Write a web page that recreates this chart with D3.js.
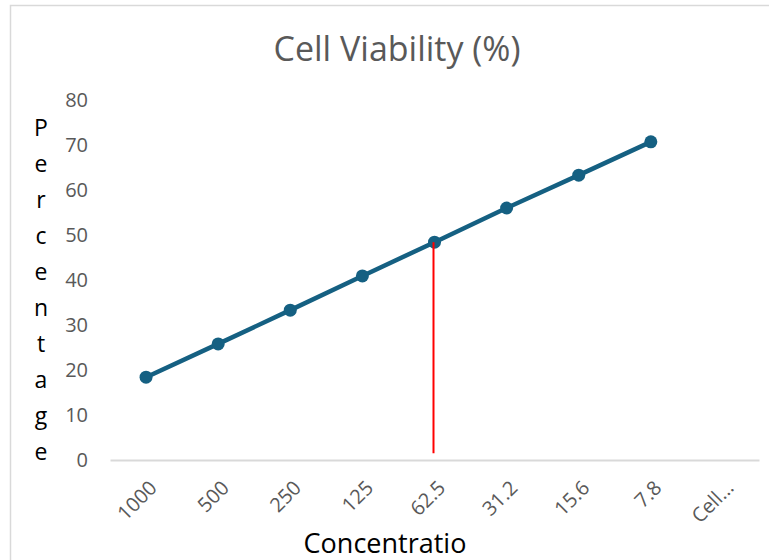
<!DOCTYPE html>
<html>
<head>
<meta charset="utf-8">
<script src="https://cdn.jsdelivr.net/npm/d3@7"></script>
<style>
  body { margin: 0; background: #fff; }
  text { font-family: "Open Sans", "Noto Sans", sans-serif; }
</style>
</head>
<body>
<div id="wrapper"></div>
<script>
const categories = ["1000", "500", "250", "125", "62.5", "31.2", "15.6", "7.8", "Cell..."]
const viability = [18.4, 25.8, 33.3, 40.9, 48.4, 56.0, 63.3, 70.7, null]
const yTicks = [0, 10, 20, 30, 40, 50, 60, 70, 80]
const markerCategory = "62.5"
const markerRange = [1.5, 48.4]
const yLabel = "Percentage"

function drawChart() {
    // 1. dimensions
    let dimensions = {
        width: 769,
        height: 560,
        margin: { top: 100, right: 10, bottom: 100, left: 110 },
    }
    dimensions.boundedWidth = 759 - dimensions.margin.left
    dimensions.boundedHeight = 460 - dimensions.margin.top

    // 2. canvas
    const wrapper = d3.select("#wrapper")
        .append("svg")
        .attr("width", dimensions.width)
        .attr("height", dimensions.height)

    wrapper.append("rect")
        .attr("x", 10.5)
        .attr("y", 5.5)
        .attr("width", 800)
        .attr("height", 600)
        .attr("fill", "none")
        .attr("stroke", "#d9d9d9")
        .attr("stroke-width", 1.5)

    const bounds = wrapper.append("g")
        .attr("transform", `translate(${dimensions.margin.left}, ${dimensions.margin.top})`)

    // 3. scales
    const xScale = d3.scaleBand()
        .domain(categories)
        .range([0, dimensions.boundedWidth])

    const yScale = d3.scaleLinear()
        .domain([0, 80])
        .range([dimensions.boundedHeight, 0])

    const xCenter = d => xScale(d) + xScale.bandwidth() / 2

    // 4. axes
    const yAxis = bounds.append("g")
        .call(d3.axisLeft(yScale).tickValues(yTicks).tickSize(0).tickPadding(22))
    yAxis.select(".domain").remove()
    yAxis.selectAll("text")
        .attr("fill", "#595959")
        .style("font-size", "20px")

    const xAxis = bounds.append("g")
        .attr("transform", `translate(0, ${dimensions.boundedHeight})`)
        .call(d3.axisBottom(xScale).tickSize(0))
    xAxis.select(".domain")
        .attr("stroke", "#d9d9d9")
        .attr("stroke-width", 2)
    xAxis.selectAll("text")
        .attr("fill", "#595959")
        .style("font-size", "20px")
        .attr("text-anchor", "end")
        .attr("dy", 0)
        .attr("transform", "translate(10, 27) rotate(-45)")

    // 5. data
    const data = categories.map((c, i) => ({ c: c, v: viability[i] }))
        .filter(d => d.v !== null)

    const lineGenerator = d3.line()
        .x(d => xCenter(d.c))
        .y(d => yScale(d.v))

    bounds.append("path")
        .attr("d", lineGenerator(data))
        .attr("fill", "none")
        .attr("stroke", "#156082")
        .attr("stroke-width", 4.5)

    bounds.selectAll("circle")
        .data(data)
        .join("circle")
        .attr("cx", d => xCenter(d.c))
        .attr("cy", d => yScale(d.v))
        .attr("r", 6.5)
        .attr("fill", "#156082")

    bounds.append("line")
        .attr("x1", xCenter(markerCategory) - 1)
        .attr("x2", xCenter(markerCategory) - 1)
        .attr("y1", yScale(markerRange[0]))
        .attr("y2", yScale(markerRange[1]))
        .attr("stroke", "#ff0000")
        .attr("stroke-width", 2)

    // 6. labels
    wrapper.append("text")
        .attr("x", 397)
        .attr("y", 61)
        .attr("text-anchor", "middle")
        .attr("fill", "#595959")
        .style("font-size", "34px")
        .text("Cell Viability (%)")

    wrapper.append("g")
        .selectAll("text")
        .data(yLabel.split(""))
        .join("text")
        .attr("x", 41)
        .attr("y", (d, i) => 136 + i * 36)
        .attr("text-anchor", "middle")
        .attr("fill", "#000")
        .style("font-size", "23px")
        .text(d => d)

    wrapper.append("text")
        .attr("x", 385)
        .attr("y", 553)
        .attr("text-anchor", "middle")
        .attr("fill", "#000")
        .style("font-size", "27px")
        .text("Concentratio")
}

drawChart()
</script>
</body>
</html>
